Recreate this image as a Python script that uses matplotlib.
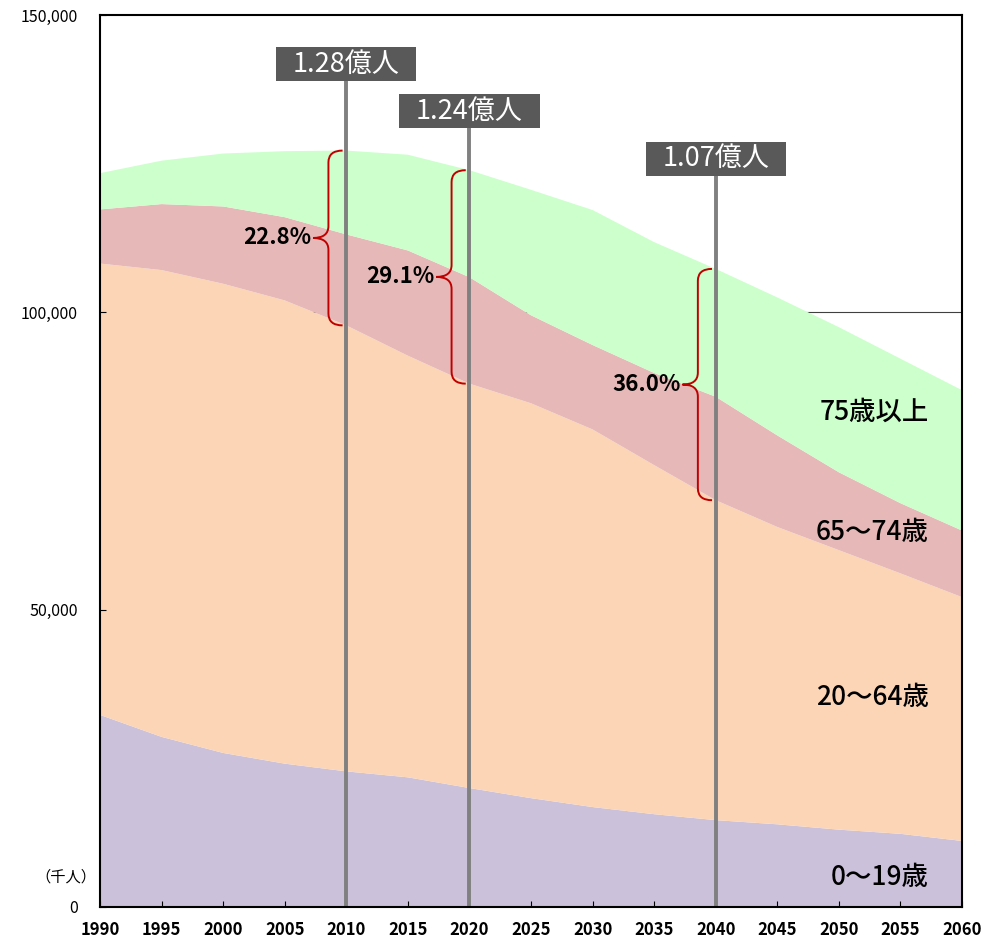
import matplotlib
matplotlib.use('Agg')
import matplotlib.pyplot as plt
import numpy as np
from matplotlib.path import Path
from matplotlib.patches import PathPatch, Rectangle

plt.rcParams['font.family'] = ['Noto Sans CJK JP', 'DejaVu Sans']

# population by age group (thousand persons)
years = [1990, 1995, 2000, 2005, 2010, 2015, 2020, 2025, 2030, 2035, 2040, 2045, 2050, 2055, 2060]
age_0_19 = [32300, 28600, 25900, 24100, 22800, 21800, 20000, 18300, 16800, 15600, 14600, 13900, 13000, 12300, 11100]
age_20_64 = [75900, 78500, 78900, 77900, 75000, 70900, 68000, 66400, 63500, 58700, 53800, 50000, 47000, 43800, 41000]
age_65_74 = [9100, 11100, 13000, 14000, 15300, 17700, 17900, 14800, 14200, 15500, 17400, 15400, 13100, 11800, 11200]
age_75_over = [6100, 7300, 8900, 11100, 14100, 16100, 18000, 21100, 22700, 22000, 21500, 23200, 24400, 24300, 23600]

group_labels = ['0～19歳', '20～64歳', '65～74歳', '75歳以上']
colors = ['#CCC1DA', '#FBD5B5', '#E6B9B8', '#CCFFCC']

marker_years = [2010, 2020, 2040]
marker_totals = ['1.28億人', '1.24億人', '1.07億人']
marker_box_bottom = [138900, 131000, 123000]
elderly_share = ['22.8%', '29.1%', '36.0%']


def draw_brace(ax, x_v, x_tip, x_pt, y0, y1, r, color):
    ym = (y0 + y1) / 2
    verts = [(x_tip, y1), (x_v, y1), (x_v, y1 - r),
             (x_v, ym + r),
             (x_v, ym), (x_pt, ym),
             (x_v, ym), (x_v, ym - r),
             (x_v, y0 + r),
             (x_v, y0), (x_tip, y0)]
    codes = [Path.MOVETO, Path.CURVE3, Path.CURVE3,
             Path.LINETO,
             Path.CURVE3, Path.CURVE3,
             Path.CURVE3, Path.CURVE3,
             Path.LINETO,
             Path.CURVE3, Path.CURVE3]
    ax.add_patch(PathPatch(Path(verts, codes), fill=False, edgecolor=color,
                           linewidth=1.4, zorder=5, clip_on=False))


fig = plt.figure(figsize=(10, 9.42), dpi=100)
ax = fig.add_axes([0.100, 0.0372, 0.862, 0.9469])

stacks = np.array([age_0_19, age_20_64, age_65_74, age_75_over])
ax.axhline(100000, color='#404040', linewidth=0.8, zorder=0)
ax.stackplot(years, stacks, colors=colors, linewidth=0, zorder=1)

cum = np.cumsum(stacks, axis=0)
total = cum[-1]
under65 = cum[1]

for yr, lab, bb, pct in zip(marker_years, marker_totals, marker_box_bottom, elderly_share):
    i = years.index(yr)
    ax.plot([yr, yr], [0, bb], color='#808080', linewidth=2.8, zorder=4)
    box_w = 11.4
    box_h = 5700
    ax.add_patch(Rectangle((yr - box_w / 2, bb), box_w, box_h, facecolor='#595959',
                           edgecolor='none', zorder=6))
    ax.text(yr, bb + box_h / 2, lab, color='white', fontsize=19.5, ha='center',
            va='center', zorder=7)
    draw_brace(ax, yr - 1.45, yr - 0.3, yr - 2.7, under65[i], total[i], 2000, '#C00000')
    ax.text(yr - 2.85, (under65[i] + total[i]) / 2, pct, fontsize=16, fontweight='bold',
            ha='right', va='center', zorder=7)

label_y = [5000, 35300, 63000, 83200]
for lab, ly in zip(group_labels, label_y):
    ax.text(2057.3, ly, lab, fontsize=19, fontweight='medium', ha='right',
            va='center', zorder=7)

ax.set_xlim(1990, 2060)
ax.set_ylim(0, 150000)
ax.set_xticks(years)
ax.set_xticklabels([str(y) for y in years], fontsize=12, fontweight='bold')
ax.set_yticks([0, 50000, 100000, 150000])
ax.set_yticklabels(['0', '50,000', '100,000', '150,000'], fontsize=11.5)
ax.tick_params(axis='y', direction='in', length=4, pad=16)
ax.tick_params(axis='x', direction='in', length=4, pad=10)
for s in ax.spines.values():
    s.set_linewidth(1.5)
    s.set_zorder(8)

ax.text(1987.2, 5000, '（千人）', fontsize=11, ha='center', va='center', clip_on=False)

fig.savefig('out.png', dpi=100)
